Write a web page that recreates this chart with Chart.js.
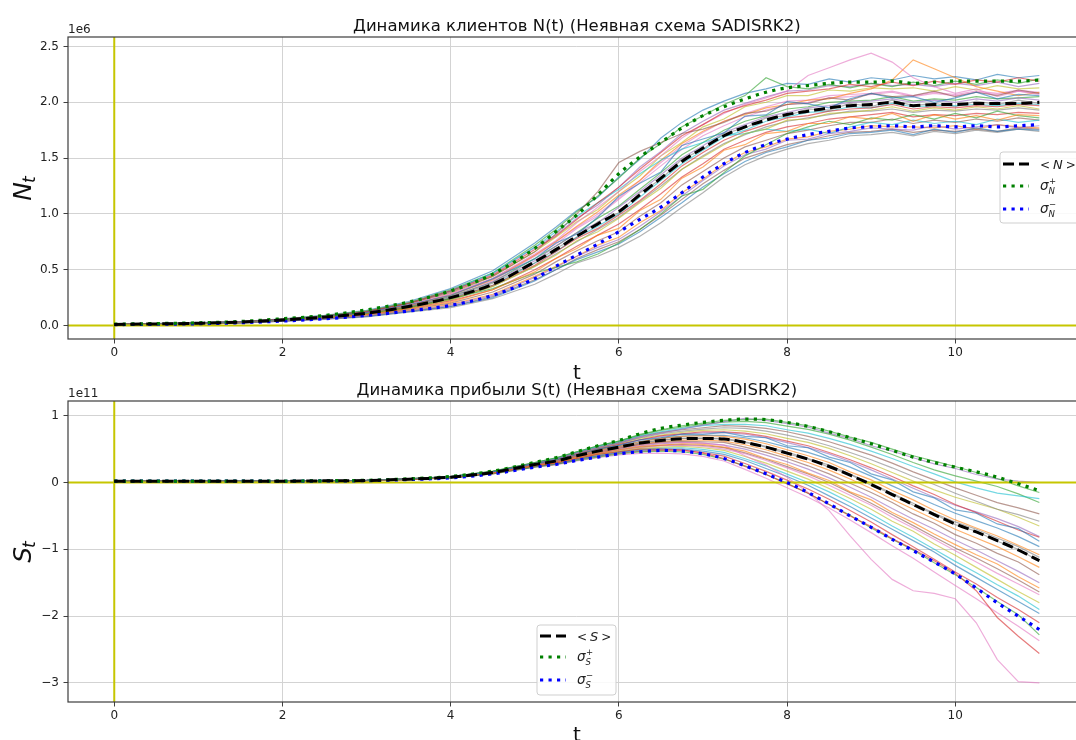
<!DOCTYPE html>
<html>
<head>
<meta charset="utf-8">
<script src="https://cdn.jsdelivr.net/npm/chart.js@4.4.1/dist/chart.umd.min.js"></script>
<style>
  html, body { margin: 0; padding: 0; background: #fff; width: 1076px; height: 740px; overflow: hidden; }
  #wrap { position: relative; width: 1076px; height: 740px; overflow: hidden; }
  canvas { position: absolute; left: 0; }
  #chartN { top: 0; }
  #chartS { top: 370px; }
</style>
</head>
<body>
<div id="wrap">
  <canvas id="chartN" width="1090" height="385"></canvas>
  <canvas id="chartS" width="1090" height="370"></canvas>
</div>
<script>
// ---- time grid and tick labels ----
const tGrid = [0,0.5,1,1.5,2,2.5,3,3.5,4,4.5,5,5.25,5.5,5.75,6,6.25,6.5,6.75,7,7.25,7.5,7.75,8,8.25,8.5,8.75,9,9.25,9.5,9.75,10,10.25,10.5,10.75,11];
const tTicks = [0,2,4,6,8,10];
const nTicks = [0,0.5,1,1.5,2,2.5];
const sTicks = [-3,-2,-1,0,1];

// ---- clients N(t), units of 1e6 ----
const nMean  = [0.01,0.014,0.02,0.03,0.05,0.075,0.11,0.17,0.25,0.37,0.57,0.68,0.80,0.91,1.02,1.17,1.32,1.47,1.59,1.70,1.78,1.84,1.89,1.92,1.95,1.97,1.98,2.00,1.97,1.98,1.98,1.99,1.99,1.99,2.00];
const nUpper = [0.012,0.017,0.024,0.036,0.06,0.09,0.14,0.21,0.31,0.46,0.69,0.84,0.99,1.17,1.36,1.51,1.64,1.77,1.88,1.96,2.03,2.09,2.13,2.15,2.17,2.18,2.18,2.19,2.17,2.18,2.19,2.19,2.19,2.19,2.20];
const nLower = [0.008,0.011,0.016,0.025,0.04,0.06,0.09,0.13,0.18,0.27,0.42,0.53,0.63,0.73,0.84,0.95,1.06,1.19,1.33,1.45,1.55,1.62,1.67,1.71,1.74,1.77,1.78,1.79,1.78,1.79,1.78,1.79,1.78,1.79,1.80];

const nRun01 = [0.011,0.015,0.022,0.032,0.052,0.083,0.118,0.186,0.27,0.418,0.597,0.74,0.817,0.97,1.158,1.274,1.376,1.613,1.671,1.726,1.876,1.887,2.005,1.986,1.95,2.032,2.08,2.04,2.05,2.0,2.04,2.09,2.03,2.07,2.06];
const nRun02 = [0.009,0.013,0.019,0.028,0.047,0.07,0.1,0.15,0.21,0.32,0.48,0.60,0.69,0.81,0.87,1.03,1.13,1.32,1.42,1.57,1.62,1.72,1.74,1.81,1.81,1.87,1.85,1.90,1.83,1.89,1.85,1.88,1.84,1.89,1.88];
const nRun03 = [0.01,0.013,0.019,0.029,0.048,0.072,0.105,0.16,0.24,0.33,0.47,0.52,0.57,0.64,0.74,0.86,1.0,1.16,1.22,1.37,1.52,1.62,1.72,1.78,1.83,1.80,1.86,1.84,1.89,1.85,1.90,1.86,1.92,1.88,1.86];
const nRun04 = [0.012,0.016,0.023,0.034,0.056,0.085,0.125,0.2,0.31,0.45,0.68,0.80,0.95,1.10,1.24,1.40,1.55,1.70,1.80,1.91,1.97,2.02,2.08,2.10,2.12,2.16,2.14,2.18,2.15,2.19,2.16,2.20,2.18,2.22,2.19];
const nRun05 = [0.008,0.011,0.016,0.025,0.041,0.06,0.085,0.13,0.18,0.27,0.43,0.52,0.62,0.70,0.77,0.89,1.02,1.16,1.30,1.43,1.53,1.58,1.66,1.67,1.72,1.74,1.77,1.76,1.75,1.79,1.76,1.78,1.80,1.77,1.79];
const nRun06 = [0.011,0.015,0.022,0.033,0.054,0.083,0.122,0.195,0.30,0.44,0.66,0.82,1.00,1.20,1.46,1.56,1.64,1.72,1.76,1.82,1.90,1.92,1.98,1.99,2.04,2.02,2.08,2.05,2.06,2.10,2.05,2.09,2.06,2.11,2.08];
const nRun07 = [0.011,0.015,0.022,0.033,0.055,0.082,0.12,0.19,0.29,0.42,0.64,0.76,0.92,1.06,1.20,1.38,1.52,1.68,1.80,1.90,1.98,2.04,2.10,2.24,2.31,2.38,2.44,2.36,2.22,2.14,2.08,2.12,2.05,2.10,2.07];
const nRun08 = [0.01,0.014,0.02,0.03,0.05,0.075,0.11,0.17,0.25,0.38,0.56,0.69,0.79,0.93,1.01,1.19,1.31,1.49,1.58,1.72,1.77,1.86,1.88,1.94,1.93,1.99,1.96,2.02,1.97,1.99,1.96,2.01,1.98,2.02,1.99];
const nRun09 = [0.01,0.014,0.019,0.029,0.048,0.072,0.105,0.16,0.23,0.35,0.53,0.63,0.76,0.84,0.96,1.10,1.23,1.40,1.51,1.62,1.72,1.76,1.84,1.85,1.90,1.91,1.93,1.96,1.92,1.95,1.93,1.96,1.94,1.97,1.94];
const nRun10 = [0.011,0.016,0.023,0.034,0.056,0.085,0.125,0.2,0.31,0.47,0.70,0.84,0.98,1.10,1.22,1.36,1.48,1.58,1.64,1.70,1.72,1.76,1.74,1.76,1.72,1.78,1.82,1.80,1.84,1.81,1.83,1.80,1.85,1.82,1.84];
const nRun11 = [0.008,0.011,0.016,0.024,0.04,0.058,0.082,0.125,0.17,0.25,0.40,0.50,0.59,0.66,0.73,0.84,0.97,1.10,1.24,1.36,1.47,1.55,1.60,1.66,1.68,1.72,1.73,1.75,1.71,1.76,1.73,1.77,1.74,1.76,1.75];
const nRun12 = [0.011,0.015,0.021,0.031,0.052,0.078,0.115,0.18,0.27,0.41,0.63,0.75,0.89,1.02,1.17,1.30,1.48,1.63,1.74,1.83,1.89,1.95,1.98,2.02,2.03,2.08,2.12,2.20,2.38,2.30,2.22,2.14,2.10,2.06,2.09];
const nRun13 = [0.012,0.016,0.024,0.035,0.058,0.088,0.13,0.205,0.32,0.47,0.72,0.86,1.02,1.16,1.32,1.50,1.63,1.78,1.88,1.98,2.06,2.22,2.14,2.12,2.16,2.13,2.17,2.14,2.18,2.15,2.19,2.16,2.20,2.17,2.21];
const nRun14 = [0.01,0.014,0.02,0.03,0.049,0.074,0.108,0.165,0.24,0.36,0.54,0.66,0.78,0.87,0.99,1.12,1.27,1.43,1.55,1.66,1.74,1.80,1.86,1.88,1.92,1.94,1.95,1.98,1.94,1.96,1.95,1.97,1.96,1.98,1.97];
const nRun15 = [0.01,0.014,0.02,0.03,0.051,0.076,0.112,0.173,0.26,0.39,0.58,0.71,0.83,0.92,1.06,1.20,1.35,1.50,1.61,1.73,1.80,1.87,1.91,1.95,1.97,2.00,2.01,2.03,2.00,2.02,2.00,2.03,2.01,2.04,2.02];
const nRun16 = [0.009,0.012,0.017,0.026,0.044,0.066,0.095,0.145,0.20,0.30,0.46,0.57,0.67,0.76,0.84,0.98,1.10,1.26,1.38,1.50,1.60,1.66,1.72,1.75,1.79,1.82,1.82,1.85,1.81,1.84,1.82,1.85,1.83,1.86,1.84];
const nRun17 = [0.011,0.015,0.021,0.031,0.052,0.079,0.116,0.18,0.28,0.40,0.62,0.73,0.87,0.98,1.13,1.28,1.43,1.58,1.70,1.79,1.87,1.93,1.98,2.00,2.04,2.05,2.07,2.09,2.05,2.08,2.06,2.09,2.07,2.10,2.08];
const nRun18 = [0.008,0.011,0.015,0.023,0.038,0.055,0.078,0.12,0.16,0.24,0.37,0.46,0.56,0.62,0.70,0.80,0.92,1.06,1.19,1.33,1.44,1.52,1.58,1.63,1.66,1.70,1.71,1.73,1.70,1.74,1.72,1.75,1.73,1.76,1.74];
const nRun19 = [0.011,0.015,0.022,0.033,0.057,0.085,0.128,0.2,0.29,0.44,0.66,0.79,0.93,1.04,1.20,1.34,1.52,1.64,1.78,1.85,1.96,2.00,2.06,2.06,2.11,2.10,2.13,2.12,2.13,2.10,2.14,2.11,2.15,2.12,2.13];
const nRun20 = [0.01,0.014,0.02,0.03,0.05,0.074,0.109,0.168,0.245,0.36,0.56,0.66,0.79,0.89,1.00,1.15,1.30,1.45,1.57,1.69,1.75,1.83,1.87,1.91,1.92,1.96,1.95,1.99,1.96,1.97,1.97,1.98,1.97,1.99,1.98];
const nRun21 = [0.012,0.017,0.025,0.036,0.06,0.09,0.135,0.215,0.33,0.49,0.74,0.88,1.03,1.15,1.33,1.49,1.68,1.82,1.93,2.01,2.08,2.12,2.17,2.16,2.21,2.18,2.22,2.20,2.24,2.21,2.23,2.20,2.25,2.22,2.24];
const nRun22 = [0.009,0.012,0.017,0.025,0.042,0.062,0.088,0.135,0.19,0.28,0.44,0.53,0.62,0.72,0.79,0.92,1.03,1.19,1.31,1.45,1.55,1.60,1.67,1.69,1.74,1.76,1.79,1.78,1.78,1.77,1.79,1.76,1.80,1.78,1.77];
const nRun23 = [0.01,0.014,0.021,0.031,0.051,0.077,0.113,0.176,0.26,0.39,0.60,0.71,0.83,0.96,1.07,1.22,1.37,1.53,1.64,1.75,1.83,1.88,1.94,1.96,2.00,2.01,2.02,2.05,2.01,2.03,2.02,2.05,2.03,2.04,2.05];
const nRun24 = [0.009,0.013,0.019,0.028,0.046,0.069,0.1,0.152,0.22,0.32,0.50,0.60,0.71,0.81,0.91,1.04,1.18,1.33,1.45,1.58,1.66,1.73,1.78,1.81,1.85,1.87,1.89,1.91,1.87,1.89,1.88,1.90,1.89,1.91,1.90];
const nRun25 = [0.012,0.016,0.023,0.034,0.056,0.085,0.126,0.2,0.31,0.46,0.70,0.81,0.96,1.08,1.24,1.42,1.56,1.72,1.83,1.93,1.99,2.05,2.10,2.11,2.15,2.14,2.17,2.15,2.16,2.14,2.17,2.15,2.18,2.14,2.17];
const nRun26 = [0.008,0.011,0.016,0.024,0.04,0.058,0.083,0.128,0.17,0.26,0.41,0.50,0.60,0.68,0.75,0.86,0.99,1.13,1.27,1.39,1.50,1.56,1.62,1.66,1.70,1.73,1.74,1.76,1.73,1.75,1.74,1.76,1.74,1.77,1.76];
const nRun27 = [0.011,0.015,0.021,0.032,0.053,0.08,0.118,0.183,0.28,0.42,0.63,0.75,0.88,1.00,1.14,1.30,1.46,1.61,1.73,1.83,1.90,1.96,2.01,2.02,2.06,2.07,2.08,2.10,2.06,2.09,2.07,2.10,2.08,2.11,2.09];
const nRun28 = [0.01,0.013,0.019,0.029,0.048,0.072,0.104,0.16,0.23,0.35,0.53,0.64,0.75,0.86,0.97,1.11,1.25,1.40,1.52,1.63,1.71,1.78,1.83,1.86,1.89,1.92,1.92,1.94,1.91,1.93,1.92,1.94,1.93,1.95,1.93];

// ---- profit S(t), units of 1e11 ----
const sMean  = [0.02,0.02,0.02,0.02,0.02,0.025,0.03,0.05,0.08,0.15,0.27,0.32,0.40,0.47,0.53,0.59,0.63,0.655,0.66,0.65,0.60,0.53,0.44,0.35,0.24,0.11,-0.03,-0.18,-0.33,-0.48,-0.62,-0.74,-0.87,-1.01,-1.17];
const sUpper = [0.02,0.02,0.02,0.02,0.021,0.026,0.033,0.055,0.09,0.17,0.30,0.37,0.46,0.55,0.63,0.73,0.81,0.86,0.90,0.93,0.95,0.94,0.90,0.84,0.76,0.67,0.58,0.48,0.38,0.30,0.23,0.16,0.08,-0.02,-0.12];
const sLower = [0.02,0.02,0.02,0.02,0.019,0.024,0.028,0.045,0.07,0.13,0.23,0.27,0.33,0.38,0.43,0.46,0.48,0.47,0.43,0.36,0.25,0.13,0.0,-0.15,-0.32,-0.50,-0.67,-0.85,-1.02,-1.19,-1.37,-1.58,-1.80,-2.00,-2.20];

const sRun01 = [0.02,0.02,0.021,0.021,0.021,0.026,0.031,0.052,0.083,0.158,0.28,0.34,0.415,0.50,0.555,0.64,0.67,0.725,0.72,0.75,0.69,0.67,0.55,0.52,0.38,0.30,0.13,0.04,-0.14,-0.23,-0.41,-0.46,-0.62,-0.69,-0.88];
const sRun02 = [0.02,0.02,0.019,0.019,0.019,0.023,0.028,0.046,0.076,0.142,0.255,0.30,0.375,0.44,0.49,0.54,0.56,0.58,0.57,0.53,0.47,0.36,0.27,0.14,0.03,-0.14,-0.26,-0.45,-0.60,-0.77,-0.93,-1.08,-1.22,-1.41,-1.58];
const sRun03 = [0.02,0.02,0.021,0.021,0.022,0.027,0.033,0.054,0.09,0.17,0.30,0.37,0.46,0.55,0.62,0.72,0.79,0.85,0.89,0.93,0.94,0.95,0.90,0.85,0.77,0.68,0.60,0.50,0.40,0.32,0.24,0.15,0.06,-0.05,-0.15];
const sRun04 = [0.02,0.02,0.019,0.019,0.019,0.023,0.028,0.046,0.075,0.14,0.25,0.29,0.36,0.42,0.46,0.50,0.50,0.49,0.44,0.36,0.24,0.12,-0.02,-0.16,-0.33,-0.50,-0.66,-0.84,-1.00,-1.17,-1.36,-1.62,-2.02,-2.30,-2.56];
const sRun05 = [0.02,0.02,0.021,0.021,0.022,0.027,0.033,0.054,0.085,0.16,0.29,0.35,0.44,0.52,0.59,0.68,0.74,0.80,0.86,0.91,0.96,0.93,0.88,0.83,0.74,0.66,0.55,0.47,0.37,0.28,0.21,0.12,0.05,0.02,0.0];
const sRun06 = [0.02,0.02,0.02,0.02,0.02,0.025,0.03,0.05,0.078,0.146,0.262,0.31,0.39,0.45,0.51,0.57,0.60,0.62,0.61,0.60,0.53,0.45,0.36,0.25,0.13,-0.01,-0.15,-0.30,-0.47,-0.61,-0.78,-0.91,-1.06,-1.19,-1.38];
const sRun07 = [0.02,0.02,0.02,0.02,0.02,0.025,0.03,0.05,0.079,0.148,0.265,0.31,0.39,0.46,0.52,0.56,0.59,0.60,0.59,0.56,0.40,0.26,0.08,-0.15,-0.42,-0.80,-1.15,-1.45,-1.62,-1.66,-1.74,-2.10,-2.65,-2.98,-3.0];
const sRun08 = [0.02,0.02,0.021,0.021,0.022,0.027,0.033,0.054,0.086,0.162,0.29,0.35,0.44,0.52,0.59,0.67,0.73,0.77,0.80,0.82,0.81,0.77,0.71,0.64,0.55,0.45,0.34,0.22,0.09,-0.03,-0.16,-0.28,-0.40,-0.48,-0.58];
const sRun09 = [0.02,0.02,0.019,0.019,0.019,0.023,0.028,0.046,0.074,0.138,0.25,0.29,0.36,0.42,0.47,0.51,0.53,0.54,0.52,0.48,0.39,0.29,0.17,0.05,-0.09,-0.24,-0.40,-0.58,-0.73,-0.92,-1.09,-1.27,-1.45,-1.63,-1.80];
const sRun10 = [0.02,0.02,0.021,0.021,0.022,0.027,0.033,0.054,0.088,0.165,0.295,0.36,0.45,0.54,0.61,0.70,0.76,0.81,0.85,0.87,0.87,0.85,0.79,0.74,0.66,0.57,0.47,0.36,0.24,0.13,0.01,-0.08,-0.16,-0.20,-0.24];
const sRun11 = [0.02,0.02,0.019,0.019,0.019,0.023,0.028,0.046,0.073,0.135,0.24,0.28,0.35,0.40,0.45,0.48,0.50,0.50,0.47,0.42,0.33,0.21,0.09,-0.04,-0.20,-0.36,-0.53,-0.70,-0.87,-1.04,-1.24,-1.42,-1.60,-1.78,-1.96];
const sRun12 = [0.02,0.02,0.02,0.02,0.02,0.025,0.03,0.05,0.081,0.152,0.272,0.33,0.405,0.48,0.54,0.61,0.66,0.69,0.70,0.69,0.65,0.58,0.49,0.40,0.30,0.16,0.04,-0.12,-0.26,-0.42,-0.56,-0.68,-0.80,-0.94,-1.08];
const sRun13 = [0.02,0.02,0.019,0.019,0.019,0.023,0.028,0.046,0.07,0.13,0.23,0.27,0.33,0.38,0.43,0.46,0.47,0.46,0.42,0.35,0.25,0.12,-0.01,-0.16,-0.33,-0.49,-0.68,-0.85,-1.01,-1.20,-1.38,-1.57,-1.78,-1.98,-2.28];
const sRun14 = [0.02,0.02,0.021,0.021,0.022,0.027,0.033,0.054,0.084,0.158,0.284,0.34,0.43,0.50,0.57,0.64,0.70,0.73,0.76,0.76,0.74,0.69,0.62,0.55,0.45,0.34,0.22,0.09,-0.05,-0.18,-0.33,-0.45,-0.58,-0.71,-0.82];
const sRun15 = [0.02,0.02,0.02,0.02,0.02,0.025,0.03,0.05,0.077,0.144,0.26,0.305,0.385,0.44,0.50,0.55,0.58,0.60,0.59,0.56,0.50,0.41,0.31,0.20,0.07,-0.07,-0.22,-0.39,-0.55,-0.70,-0.86,-1.01,-1.17,-1.33,-1.50];
const sRun16 = [0.02,0.02,0.021,0.021,0.022,0.027,0.033,0.054,0.087,0.163,0.292,0.355,0.445,0.53,0.60,0.69,0.75,0.79,0.82,0.85,0.84,0.81,0.76,0.69,0.61,0.51,0.41,0.29,0.16,0.04,-0.08,-0.19,-0.30,-0.38,-0.47];
const sRun17 = [0.02,0.02,0.019,0.019,0.019,0.023,0.028,0.046,0.075,0.14,0.252,0.295,0.37,0.43,0.48,0.52,0.55,0.56,0.54,0.50,0.43,0.33,0.22,0.10,-0.04,-0.19,-0.34,-0.52,-0.68,-0.85,-1.02,-1.19,-1.36,-1.52,-1.68];
const sRun18 = [0.02,0.02,0.02,0.02,0.02,0.025,0.03,0.05,0.08,0.15,0.27,0.32,0.40,0.47,0.53,0.59,0.63,0.66,0.66,0.65,0.60,0.53,0.43,0.35,0.23,0.12,-0.04,-0.17,-0.34,-0.47,-0.63,-0.73,-0.88,-1.00,-1.18];
const sRun19 = [0.02,0.02,0.021,0.021,0.022,0.027,0.032,0.053,0.085,0.16,0.288,0.345,0.43,0.51,0.58,0.66,0.71,0.75,0.78,0.79,0.77,0.73,0.66,0.60,0.51,0.40,0.28,0.15,0.02,-0.11,-0.22,-0.31,-0.40,-0.52,-0.65];
const sRun20 = [0.02,0.02,0.019,0.019,0.019,0.023,0.028,0.046,0.073,0.136,0.246,0.285,0.355,0.41,0.46,0.495,0.515,0.52,0.495,0.45,0.355,0.25,0.125,0.0,-0.14,-0.30,-0.47,-0.65,-0.82,-1.0,-1.18,-1.35,-1.53,-1.70,-1.90];
const sRun21 = [0.02,0.02,0.02,0.02,0.021,0.026,0.031,0.051,0.082,0.154,0.277,0.33,0.413,0.487,0.55,0.617,0.663,0.694,0.707,0.707,0.67,0.61,0.53,0.45,0.35,0.23,0.095,-0.05,-0.19,-0.33,-0.46,-0.57,-0.68,-0.81,-0.96];
const sRun22 = [0.02,0.02,0.02,0.02,0.02,0.025,0.03,0.05,0.079,0.148,0.266,0.315,0.394,0.46,0.52,0.576,0.613,0.635,0.636,0.62,0.565,0.49,0.395,0.30,0.186,0.052,-0.09,-0.25,-0.40,-0.55,-0.70,-0.83,-0.96,-1.11,-1.27];
const sRun23 = [0.02,0.02,0.021,0.021,0.022,0.027,0.033,0.055,0.089,0.168,0.30,0.365,0.459,0.547,0.62,0.71,0.78,0.83,0.87,0.905,0.915,0.895,0.845,0.795,0.725,0.635,0.53,0.42,0.30,0.19,0.10,0.02,-0.06,-0.17,-0.30];
const sRun24 = [0.02,0.02,0.019,0.019,0.019,0.023,0.027,0.045,0.071,0.132,0.239,0.275,0.342,0.394,0.44,0.469,0.481,0.479,0.449,0.394,0.285,0.166,0.035,-0.096,-0.25,-0.42,-0.59,-0.78,-0.96,-1.15,-1.34,-1.52,-1.72,-1.90,-2.10];
const sRun25 = [0.02,0.02,0.02,0.021,0.021,0.026,0.031,0.052,0.083,0.157,0.282,0.338,0.423,0.50,0.565,0.637,0.688,0.723,0.742,0.75,0.722,0.672,0.597,0.523,0.429,0.315,0.189,0.053,-0.085,-0.22,-0.34,-0.44,-0.54,-0.66,-0.81];
const sRun26 = [0.02,0.02,0.02,0.02,0.019,0.024,0.029,0.048,0.0755,0.141,0.254,0.298,0.371,0.432,0.485,0.529,0.556,0.567,0.554,0.522,0.443,0.348,0.238,0.127,0.0,-0.153,-0.311,-0.479,-0.645,-0.815,-0.98,-1.13,-1.29,-1.46,-1.64];
const sRun27 = [0.02,0.02,0.019,0.019,0.019,0.023,0.027,0.044,0.0685,0.127,0.23,0.263,0.325,0.372,0.415,0.435,0.44,0.43,0.39,0.322,0.197,0.064,-0.078,-0.22,-0.38,-0.56,-0.75,-0.945,-1.135,-1.34,-1.54,-1.74,-1.95,-2.15,-2.37];
const sRun28 = [0.02,0.02,0.02,0.02,0.02,0.025,0.03,0.05,0.081,0.151,0.272,0.322,0.405,0.47,0.535,0.59,0.64,0.66,0.665,0.66,0.61,0.54,0.455,0.36,0.26,0.125,-0.01,-0.16,-0.31,-0.46,-0.59,-0.70,-0.83,-0.96,-1.12];

const nRuns = [nRun01,nRun02,nRun03,nRun04,nRun05,nRun06,nRun07,nRun08,nRun09,nRun10,nRun11,nRun12,nRun13,nRun14,
               nRun15,nRun16,nRun17,nRun18,nRun19,nRun20,nRun21,nRun22,nRun23,nRun24,nRun25,nRun26,nRun27,nRun28];
const sRuns = [sRun01,sRun02,sRun03,sRun04,sRun05,sRun06,sRun07,sRun08,sRun09,sRun10,sRun11,sRun12,sRun13,sRun14,
               sRun15,sRun16,sRun17,sRun18,sRun19,sRun20,sRun21,sRun22,sRun23,sRun24,sRun25,sRun26,sRun27,sRun28];

// ---- styling ----
const FONT = '"DejaVu Sans", sans-serif';
const tab10 = ['#1f77b4','#ff7f0e','#2ca02c','#d62728','#9467bd','#8c564b','#e377c2','#7f7f7f','#bcbd22','#17becf'];
function rgba(hex, a) {
  const n = parseInt(hex.slice(1), 16);
  return `rgba(${(n >> 16) & 255},${(n >> 8) & 255},${n & 255},${a})`;
}
function pts(ys) { return tGrid.map((t, i) => ({ x: t, y: ys[i] })); }
const minus = v => (v < 0 ? '\u2212' + Math.abs(v) : String(v));

function roundRect(ctx, x, y, w, h, r) {
  ctx.beginPath();
  ctx.moveTo(x + r, y);
  ctx.lineTo(x + w - r, y); ctx.arcTo(x + w, y, x + w, y + r, r);
  ctx.lineTo(x + w, y + h - r); ctx.arcTo(x + w, y + h, x + w - r, y + h, r);
  ctx.lineTo(x + r, y + h); ctx.arcTo(x, y + h, x, y + h - r, r);
  ctx.lineTo(x, y + r); ctx.arcTo(x, y, x + r, y, r);
  ctx.closePath();
}

// legend with math-style labels: < X >, sigma_X^+, sigma_X^-
function drawLegend(chart, L) {
  const ctx = chart.ctx;
  ctx.save();
  roundRect(ctx, L.x, L.y, L.w, L.h, 3);
  ctx.fillStyle = 'rgba(255,255,255,0.85)';
  ctx.fill();
  ctx.strokeStyle = '#cfcfcf'; ctx.lineWidth = 1;
  ctx.stroke();
  for (let i = 0; i < 3; i++) {
    const ds = chart.data.datasets[i];
    const ry = L.rows[i];
    ctx.strokeStyle = ds.borderColor;
    ctx.lineWidth = ds.borderWidth;
    ctx.setLineDash(ds.borderDash);
    ctx.beginPath(); ctx.moveTo(L.lx0, ry); ctx.lineTo(L.lx1, ry); ctx.stroke();
    ctx.setLineDash([]);
    ctx.fillStyle = '#222';
    ctx.textAlign = 'left'; ctx.textBaseline = 'alphabetic';
    if (i === 0) {
      ctx.font = `12px ${FONT}`;
      ctx.fillText('<', L.tx, ry + 4.5);
      ctx.font = `italic 13px ${FONT}`;
      ctx.fillText(L.sym, L.tx + 13, ry + 5);
      const w = ctx.measureText(L.sym).width;
      ctx.font = `12px ${FONT}`;
      ctx.fillText('>', L.tx + 16 + w, ry + 4.5);
    } else {
      ctx.font = `italic 13.5px ${FONT}`;
      ctx.fillText('\u03c3', L.tx, ry + 4);
      ctx.font = `8.5px ${FONT}`;
      ctx.fillText(i === 1 ? '+' : '\u2212', L.tx + 9, ry - 2.5);
      ctx.font = `italic 8.5px ${FONT}`;
      ctx.fillText(L.sym, L.tx + 8.5, ry + 8);
    }
  }
  ctx.restore();
}

const decor = {
  id: 'decor',
  // zero reference lines sit above the sample paths, below the mean and sigma curves
  afterDatasetDraw(chart, args, o) {
    if (args.index !== 3) return;
    const { ctx, chartArea: a, scales } = chart;
    const x0 = scales.x.getPixelForValue(0);
    const y0 = scales.y.getPixelForValue(0);
    ctx.save();
    ctx.beginPath(); ctx.rect(a.left, a.top, a.right - a.left, a.bottom - a.top); ctx.clip();
    ctx.strokeStyle = '#c6c600'; ctx.lineWidth = 2; ctx.setLineDash([]);
    ctx.beginPath();
    ctx.moveTo(x0, a.top); ctx.lineTo(x0, a.bottom);
    ctx.moveTo(a.left, y0); ctx.lineTo(a.right, y0);
    ctx.stroke();
    ctx.restore();
  },
  afterDraw(chart, args, o) {
    const { ctx, chartArea: a } = chart;
    ctx.save();
    ctx.setLineDash([]);
    ctx.strokeStyle = '#3c3c3c'; ctx.lineWidth = 1.2;
    ctx.strokeRect(a.left, a.top, a.right - a.left, a.bottom - a.top);

    const cx = (a.left + a.right) / 2;
    ctx.fillStyle = '#111';
    ctx.textAlign = 'center'; ctx.textBaseline = 'alphabetic';
    ctx.font = `16.5px ${FONT}`;
    ctx.fillText(o.title, cx, a.top - 6);

    ctx.font = `20px ${FONT}`;
    ctx.fillText('t', cx, o.xLabelY);

    ctx.textAlign = 'left';
    ctx.font = `12px ${FONT}`;
    ctx.fillStyle = '#222';
    ctx.fillText(o.offset, a.left, a.top - 4.5);

    // rotated y label: italic letter with italic subscript t
    ctx.save();
    ctx.translate(22, (a.top + a.bottom) / 2);
    ctx.rotate(-Math.PI / 2);
    ctx.fillStyle = '#111';
    ctx.font = `italic 25px ${FONT}`;
    const wm = ctx.measureText(o.yMain).width;
    ctx.font = `italic 17px ${FONT}`;
    const ws = ctx.measureText('t').width;
    const x0 = -(wm + ws) / 2;
    ctx.font = `italic 25px ${FONT}`;
    ctx.fillText(o.yMain, x0, 8.5);
    ctx.font = `italic 17px ${FONT}`;
    ctx.fillText('t', x0 + wm - 1, 13);
    ctx.restore();

    drawLegend(chart, o.legend);
    ctx.restore();
  }
};

function makeChart(id, cfg) {
  const datasets = [
    { data: pts(cfg.mean), borderColor: '#000000', borderWidth: 3, borderDash: [11, 5], cubicInterpolationMode: 'monotone' },
    { data: pts(cfg.upper), borderColor: '#008000', borderWidth: 3.2, borderDash: [3.2, 5.3], cubicInterpolationMode: 'monotone' },
    { data: pts(cfg.lower), borderColor: '#0000ff', borderWidth: 3.2, borderDash: [3.2, 5.3], cubicInterpolationMode: 'monotone' }
  ].concat(cfg.runs.map((r, i) => ({
    data: pts(r), borderColor: rgba(tab10[i % 10], 0.6), borderWidth: 1.2, tension: 0
  })));
  datasets.forEach(d => { d.pointRadius = 0; d.fill = false; });

  const gridStyle = { color: '#d3d3d3', lineWidth: 1, drawTicks: true, tickLength: 4.5, tickColor: '#404040', tickWidth: 1 };
  const tickFont = { family: FONT, size: 12 };

  return new Chart(document.getElementById(id), {
    type: 'line',
    data: { datasets },
    options: {
      responsive: false,
      animation: false,
      events: [],
      layout: { padding: { top: cfg.areaTop, right: 4.4, left: 0, bottom: 0 } },
      scales: {
        x: {
          type: 'linear', min: -0.55, max: 11.55,
          afterBuildTicks: s => { s.ticks = tTicks.map(v => ({ value: v })); },
          afterFit: s => { s.height = cfg.xAxisH; },
          ticks: { font: tickFont, color: '#222', padding: 2, maxRotation: 0, autoSkip: false, callback: v => String(v) },
          grid: gridStyle,
          border: { display: false }
        },
        y: {
          type: 'linear', min: cfg.yMin, max: cfg.yMax,
          afterBuildTicks: s => { s.ticks = cfg.yTicks.map(v => ({ value: v })); },
          afterFit: s => { s.width = 68; },
          ticks: { font: tickFont, color: '#222', padding: 4.5, autoSkip: false, callback: cfg.yFormat },
          grid: gridStyle,
          border: { display: false }
        }
      },
      plugins: {
        legend: { display: false },
        tooltip: { enabled: false },
        decor: {
          title: cfg.title, offset: cfg.offset, yMain: cfg.yMain,
          xLabelY: cfg.xLabelY, legend: cfg.legend
        }
      }
    },
    plugins: [decor]
  });
}

makeChart('chartN', {
  mean: nMean, upper: nUpper, lower: nLower, runs: nRuns,
  yMin: -0.121, yMax: 2.585, yTicks: nTicks, yFormat: v => v.toFixed(1),
  areaTop: 37, xAxisH: 385 - 339,
  title: 'Динамика клиентов N(t) (Неявная схема SADISRK2)',
  offset: '1e6', yMain: 'N', xLabelY: 379,
  legend: { x: 1000, y: 152, w: 90, h: 71, rows: [164, 186, 209], lx0: 1003, lx1: 1029, tx: 1040, sym: 'N' }
});

makeChart('chartS', {
  mean: sMean, upper: sUpper, lower: sLower, runs: sRuns,
  yMin: -3.285, yMax: 1.22, yTicks: sTicks, yFormat: v => minus(v),
  areaTop: 31, xAxisH: 370 - 332,
  title: 'Динамика прибыли S(t) (Неявная схема SADISRK2)',
  offset: '1e11', yMain: 'S', xLabelY: 371,
  legend: { x: 537, y: 255, w: 79, h: 70, rows: [266, 287, 310], lx0: 540, lx1: 566, tx: 577, sym: 'S' }
});
</script>
</body>
</html>
